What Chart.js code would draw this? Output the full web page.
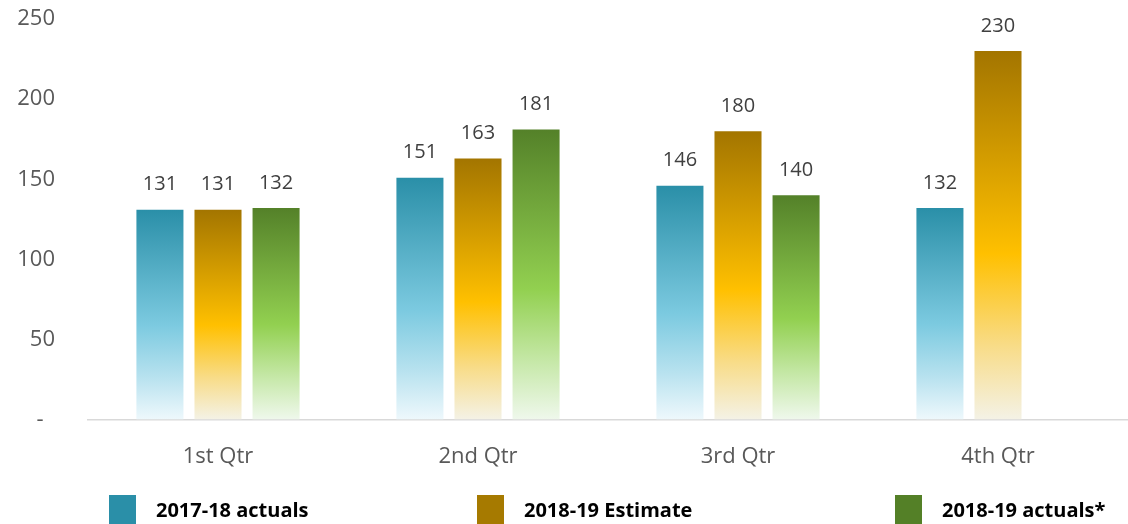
<!DOCTYPE html>
<html>
<head>
<meta charset="utf-8">
<script src="https://cdn.jsdelivr.net/npm/chart.js@4.4.1/dist/chart.umd.min.js"></script>
<style>
  html, body { margin: 0; padding: 0; background: #fff; }
  #wrap { position: relative; width: 1128px; height: 524px; overflow: hidden; }
  #chart { display: block; }
  .legend-item { position: absolute; top: 495px; font-family: "Open Sans", sans-serif; font-weight: bold; font-size: 20px; color: #000; }
  .legend-item span.box { position: absolute; left: 0; top: 0; width: 27px; height: 29px; }
  .legend-item span.txt { position: absolute; left: 47px; top: 1px; white-space: nowrap; }
</style>
</head>
<body>
<div id="wrap">
  <canvas id="chart" width="1128" height="524"></canvas>
  <div class="legend-item" style="left:109px"><span class="box" style="background:#2A8FA8"></span><span class="txt">2017-18 actuals</span></div>
  <div class="legend-item" style="left:477px"><span class="box" style="background:#A67A00"></span><span class="txt">2018-19 Estimate</span></div>
  <div class="legend-item" style="left:895px"><span class="box" style="background:#548027"></span><span class="txt">2018-19 actuals*</span></div>
</div>
<script>
// data
const quarters = ['1st Qtr', '2nd Qtr', '3rd Qtr', '4th Qtr'];
const actuals1718 = [131, 151, 146, 132];
const estimate1819 = [131, 163, 180, 230];
const actuals1819 = [132, 181, 140, null];
const yTicks = [0, 50, 100, 150, 200, 250];

// gradient stops per series: dark top, bright middle, almost white at the base
const blueStops = ['#2A8FA8', '#7CCAE0', '#B8E2EF', '#EEF8FC'];
const goldStops = ['#A37500', '#FFC000', '#F8DC88', '#F4F2E6'];
const greenStops = ['#548129', '#92D050', '#C6E8A8', '#EFF8EC'];

function barGradient(stops) {
  return function (ctx) {
    const chart = ctx.chart;
    if (!chart.chartArea || ctx.raw == null) return stops[1];
    const y = chart.scales.y;
    const top = y.getPixelForValue(ctx.raw);
    const base = y.getPixelForValue(0);
    const g = chart.ctx.createLinearGradient(0, top, 0, base);
    g.addColorStop(0, stops[0]);
    g.addColorStop(0.55, stops[1]);
    g.addColorStop(0.8, stops[2]);
    g.addColorStop(1, stops[3]);
    return g;
  };
}

// values above the bars
const valueLabels = {
  id: 'valueLabels',
  afterDatasetsDraw(chart) {
    const c = chart.ctx;
    c.save();
    c.font = '20px "Open Sans"';
    c.fillStyle = '#404040';
    c.textAlign = 'center';
    c.textBaseline = 'middle';
    chart.data.datasets.forEach((ds, i) => {
      chart.getDatasetMeta(i).data.forEach((bar, j) => {
        if (ds.data[j] == null) return;
        c.fillText(ds.data[j], bar.x, bar.y - 25);
      });
    });
    c.restore();
  }
};

new Chart(document.getElementById('chart'), {
  type: 'bar',
  data: {
    labels: quarters,
    datasets: [
      { label: '2017-18 actuals', data: actuals1718, backgroundColor: barGradient(blueStops) },
      { label: '2018-19 Estimate', data: estimate1819, backgroundColor: barGradient(goldStops) },
      { label: '2018-19 actuals*', data: actuals1819, backgroundColor: barGradient(greenStops) }
    ]
  },
  options: {
    responsive: false,
    animation: false,
    categoryPercentage: 0.67,
    barPercentage: 0.81,
    layout: { padding: { top: 19, right: 0, bottom: 30, left: 0 } },
    plugins: { legend: { display: false }, tooltip: { enabled: false } },
    scales: {
      x: {
        grid: { display: false, drawTicks: false },
        border: { color: '#D9D9D9', width: 1.5 },
        ticks: { padding: 24, color: '#595959', font: { family: 'Open Sans', size: 22 } }
      },
      y: {
        min: 0,
        max: 250,
        afterBuildTicks: scale => { scale.ticks = yTicks.map(v => ({ value: v })); },
        afterFit: scale => {
          scale.width = 88;
          // tick padding is meant for the label gap only, not the top/bottom overflow
          scale.paddingTop = 0;
          scale.paddingBottom = 0;
        },
        grid: { display: false, drawTicks: false },
        border: { display: false },
        ticks: {
          padding: 33,
          color: '#595959',
          font: { family: 'Open Sans', size: 22 },
          callback: v => (v === 0 ? '-  ' : v)
        }
      }
    }
  },
  plugins: [valueLabels]
});
</script>
</body>
</html>
